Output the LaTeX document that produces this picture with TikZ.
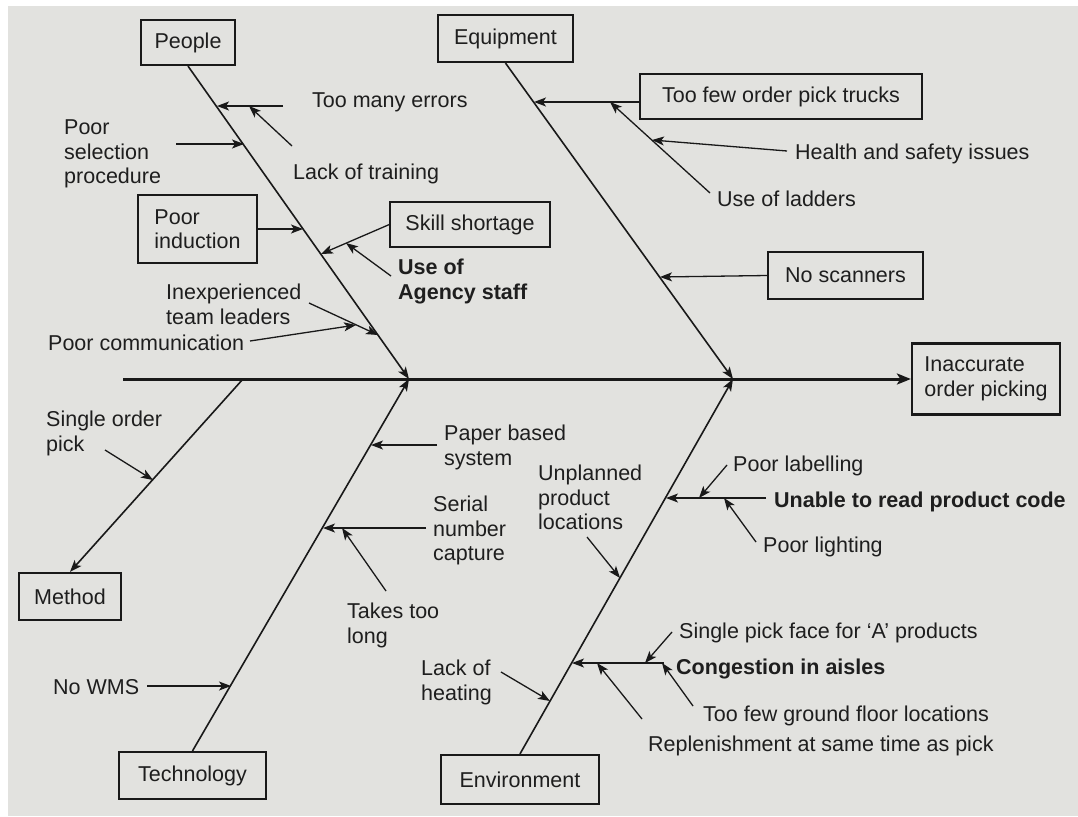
\documentclass[tikz,border=0pt]{standalone}
\usepackage{fontspec}
\setmainfont{Liberation Sans}
\usetikzlibrary{arrows.meta}
\definecolor{paper}{RGB}{226,226,223}
\definecolor{ink}{RGB}{25,25,25}
\definecolor{txt}{RGB}{30,30,30}
\newcommand\dgmfont{\fontsize{21.5pt}{24.5pt}\selectfont}
\begin{document}
\begin{tikzpicture}[x=1pt,y=-1pt,
  font=\dgmfont,
  tip/.style={-{Stealth[length=12pt,width=9pt,inset=3pt]}},
  bone/.style={draw=ink,line width=1.6pt,tip},
  twig/.style={draw=ink,line width=1.3pt,tip},
  catbox/.style={draw=ink,line width=2.2pt,inner sep=0pt,text=txt},
  causebox/.style={draw=ink,line width=1.3pt,inner sep=0pt,text=txt},
  lbl/.style={inner sep=0pt,text=txt,anchor=base west},
  mlbl/.style={inner sep=0pt,text=txt,anchor=north west,align=left},
  boldlbl/.style={font=\dgmfont\bfseries},
]
\useasboundingbox (0,0) rectangle (1078,816);
\fill[white] (0,0) rectangle (1078,816);
\fill[paper] (8,6) rectangle (1078,816);

% category boxes and effect
\node[catbox,minimum width=94pt,minimum height=45pt] (people) at (188,42.5) {People};
\node[catbox,minimum width=135pt,minimum height=47pt] (equip) at (505.5,38.5) {Equipment};
\node[catbox,minimum width=102pt,minimum height=47pt] (method) at (70,596.5) {Method};
\node[catbox,minimum width=147pt,minimum height=47pt] (tech) at (192.5,775.5) {Technology};
\node[catbox,minimum width=158pt,minimum height=49pt] (env) at (520,779.5) {Environment};
\node[catbox,minimum width=148pt,minimum height=71pt,align=left] (effect) at (986,379) {Inaccurate\\order picking};

% cause boxes
\node[causebox,minimum width=119pt,minimum height=68pt,align=left] (induct) at (197.5,229) {Poor\\induction};
\node[causebox,minimum width=160pt,minimum height=45pt] (skill) at (470,224.5) {Skill shortage};
\node[causebox,minimum width=282pt,minimum height=45pt] (trucks) at (781,96.5) {Too few order pick trucks};
\node[causebox,minimum width=155pt,minimum height=47pt] (scan) at (845.5,275.5) {No scanners};

% spine and junctions
\coordinate (sL) at (123,379);
\coordinate (jP) at (409,379);
\coordinate (jE) at (733,379);
\coordinate (jM) at (243,379);
\draw[ink,line width=3pt,-{Stealth[length=14pt,width=11pt,inset=3.5pt]}] (sL) -- (effect.west);

% main bones
\draw[bone] (people.south) -- (jP);
\draw[bone] (equip.south) -- (jE);
\draw[bone] (tech.north) -- (jP);
\draw[bone] (env.north) -- (jE);
\draw[bone] (jM) -- (method.north);

% people branch
\coordinate (p1) at (217,106); \coordinate (p1t) at (283,106);
\coordinate (p1a) at (249,106); \coordinate (p1b) at (292,146);
\coordinate (p2) at (244,144); \coordinate (p2t) at (176,144);
\coordinate (p3) at (303,229);
\coordinate (p4) at (321,254);
\coordinate (p4a) at (346,243); \coordinate (p4b) at (391,276);
\coordinate (p5) at (378,335); \coordinate (p5t) at (309,303);
\coordinate (p5a) at (356,325); \coordinate (p5b) at (250,341);
\draw[twig] (p1t) -- (p1);
\draw[twig] (p1b) -- (p1a);
\draw[twig] (p2t) -- (p2);
\draw[twig] (induct.east) -- (p3);
\draw[twig] (skill.west) -- (p4);
\draw[twig] (p4b) -- (p4a);
\draw[twig] (p5t) -- (p5);
\draw[twig] (p5b) -- (p5a);

% equipment branch
\coordinate (e1) at (534,102);
\coordinate (e1a) at (610,102); \coordinate (e1b) at (710,193);
\coordinate (e1c) at (652,140); \coordinate (e1d) at (787,151);
\coordinate (e2) at (660,277);
\draw[twig] (trucks.west |- e1) -- (e1);
\draw[twig] (e1b) -- (e1a);
\draw[twig] (e1d) -- (e1c);
\draw[twig] (scan.west) -- (e2);

% method branch
\coordinate (m1) at (153,480); \coordinate (m1t) at (105,450);
\draw[twig] (m1t) -- (m1);

% technology branch
\coordinate (t1) at (371,445); \coordinate (t1t) at (437,445);
\coordinate (t2) at (323,528); \coordinate (t2t) at (426,528);
\coordinate (t2a) at (342,528); \coordinate (t2b) at (386,591);
\coordinate (t3) at (231,686); \coordinate (t3t) at (147,686);
\draw[twig] (t1t) -- (t1);
\draw[twig] (t2t) -- (t2);
\draw[twig] (t2b) -- (t2a);
\draw[twig] (t3t) -- (t3);

% environment branch
\coordinate (v1) at (666,498); \coordinate (v1t) at (766,498);
\coordinate (v1a) at (699,498); \coordinate (v1b) at (727,465);
\coordinate (v1c) at (724,498); \coordinate (v1d) at (756,542);
\coordinate (v2) at (620,578); \coordinate (v2t) at (587,537);
\coordinate (v3) at (572,663); \coordinate (v3t) at (664,663);
\coordinate (v3a) at (645,663); \coordinate (v3b) at (672,632);
\coordinate (v3c) at (662,663); \coordinate (v3d) at (693,706);
\coordinate (v3e) at (597,663); \coordinate (v3f) at (642,719);
\coordinate (v4) at (550,701); \coordinate (v4t) at (501,672);
\draw[twig] (v1t) -- (v1);
\draw[twig] (v1b) -- (v1a);
\draw[twig] (v1d) -- (v1c);
\draw[twig] (v2t) -- (v2);
\draw[twig] (v3t) -- (v3);
\draw[twig] (v3b) -- (v3a);
\draw[twig] (v3d) -- (v3c);
\draw[twig] (v3f) -- (v3e);
\draw[twig] (v4t) -- (v4);

% labels
\node[lbl] (l-tme) at (312,107) {Too many errors};
\node[lbl] (l-lot) at (293,179) {Lack of training};
\node[mlbl] (l-psp) at (64,120) {Poor\\selection\\procedure};
\node[mlbl,boldlbl] (l-uas) at (398,259) {Use of\\Agency staff};
\node[mlbl] (l-itl) at (166,284) {Inexperienced\\team leaders};
\node[lbl] (l-pc) at (48,350) {Poor communication};
\node[lbl] (l-hs) at (795,159) {Health and safety issues};
\node[lbl] (l-uol) at (717,206) {Use of ladders};
\node[mlbl] (l-sop) at (46,411) {Single order\\pick};
\node[mlbl] (l-pbs) at (444,425) {Paper based\\system};
\node[mlbl] (l-snc) at (433,496) {Serial\\number\\capture};
\node[mlbl] (l-ttl) at (347,603) {Takes too\\long};
\node[lbl] (l-nw) at (53,694) {No WMS};
\node[mlbl] (l-upl) at (538,465) {Unplanned\\product\\locations};
\node[lbl] (l-pl) at (733,471) {Poor labelling};
\node[lbl,boldlbl] (l-urc) at (774,507) {Unable to read product code};
\node[lbl] (l-plt) at (763,552) {Poor lighting};
\node[lbl] (l-spf) at (679,638) {Single pick face for ‘A’ products};
\node[lbl,boldlbl] (l-cia) at (676,674) {Congestion in aisles};
\node[lbl] (l-tfg) at (703,721) {Too few ground floor locations};
\node[lbl] (l-rep) at (648,751) {Replenishment at same time as pick};
\node[mlbl] (l-loh) at (421,660) {Lack of\\heating};
\end{tikzpicture}
\end{document}
